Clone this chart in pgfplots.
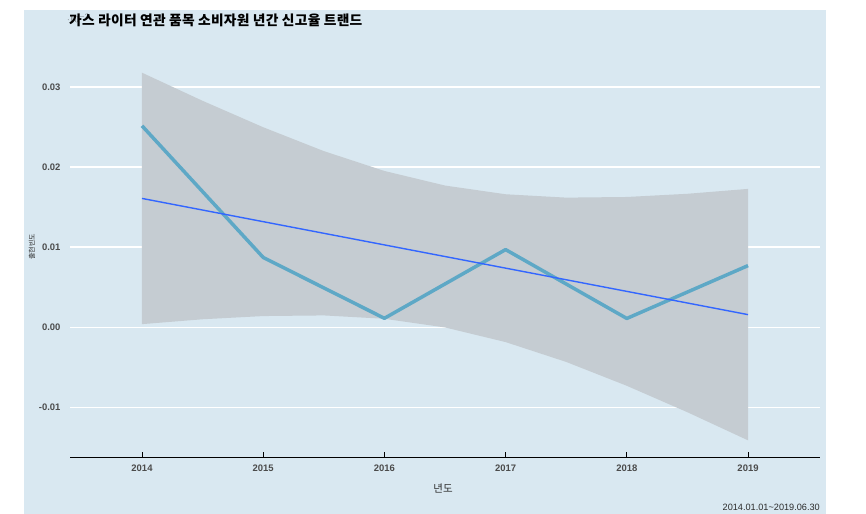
\documentclass[border=0pt]{standalone}
\usepackage{pgfplots}
\pgfplotsset{compat=1.18}
\usepackage{fontspec}
\setmainfont{Liberation Sans}
\newfontfamily\kr{Noto Sans CJK KR}
\newfontfamily\krtitle[LetterSpace=2]{Noto Sans CJK KR}
\definecolor{panel}{HTML}{D9E8F1}
\definecolor{ribbon}{HTML}{C5CCD2}
\definecolor{teal}{HTML}{5EA8C6}
\definecolor{fitblue}{HTML}{3366FF}
\definecolor{txt}{HTML}{2B2B2B}
\begin{document}
\begin{tikzpicture}[x=1bp,y=1bp]
\fill[white] (0,0) rectangle (866,514);
\fill[panel] (24,0) rectangle (826,504);
\begin{axis}[
  at={(70bp,57bp)}, anchor=south west,
  scale only axis, width=750bp, height=422bp,
  xmin=2013.406, xmax=2019.594,
  ymin=-0.0162, ymax=0.0365,
  axis x line*=bottom, axis y line*=left,
  x axis line style={black, line width=0.8bp},
  y axis line style={draw=none},
  xtick={2014,2015,2016,2017,2018,2019},
  xticklabels={2014,2015,2016,2017,2018,2019},
  ytick={-0.01,0,0.01,0.02,0.03},
  yticklabels={-0.01,0.00,0.01,0.02,0.03},
  tick align=inside,
  major tick length=5bp,
  xtick style={black, line width=0.8bp},
  ytick style={draw=none},
  ymajorgrids,
  major grid style={white, line width=1.5bp},
  tick label style={font=\bfseries\fontsize{9.5}{11}\selectfont, text=txt!85},
  xticklabel style={yshift=-4bp},
  yticklabel style={xshift=-6bp},
  axis background/.style={fill=panel},
  clip=false,
]
\addplot[fill=ribbon, draw=none] coordinates {
 (2014,0.03179) (2014.5,0.02828) (2015,0.02498) (2015.5,0.02200) (2016,0.01952)
 (2016.5,0.01770) (2017,0.01661) (2017.5,0.01619) (2018,0.01627) (2018.5,0.01667) (2019,0.01728)
 (2019,-0.01412) (2018.5,-0.01061) (2018,-0.00731) (2017.5,-0.00433) (2017,-0.00185)
 (2016.5,-0.00002) (2016,0.00106) (2015.5,0.00148) (2015,0.00140) (2014.5,0.00100) (2014,0.00039)
} -- cycle;
\addplot[teal, line width=3.5bp, line join=round] coordinates {
 (2014,0.02516) (2015,0.00872) (2016,0.00112) (2017,0.00970) (2018,0.00110) (2019,0.00770)
};
\addplot[fitblue, line width=1.4bp] coordinates {(2014,0.01609) (2019,0.00158)};
\end{axis}
\node[anchor=west, font=\krtitle\bfseries\fontsize{13.8}{14}\selectfont, text=black, inner sep=0pt] at (69,494) {가스 라이터 연관 품목 소비자원 년간 신고율 트랜드};
\node[rotate=90, font=\kr\fontsize{7}{7}\selectfont, text=txt] at (32,267) {출현빈도};
\node[font=\kr\fontsize{10.5}{11}\selectfont, text=txt] at (443,26) {년도};
\node[anchor=east, font=\fontsize{9.2}{10}\selectfont, text=txt, inner sep=0pt] at (820,7) {2014.01.01\textasciitilde 2019.06.30};
\end{tikzpicture}
\end{document}
